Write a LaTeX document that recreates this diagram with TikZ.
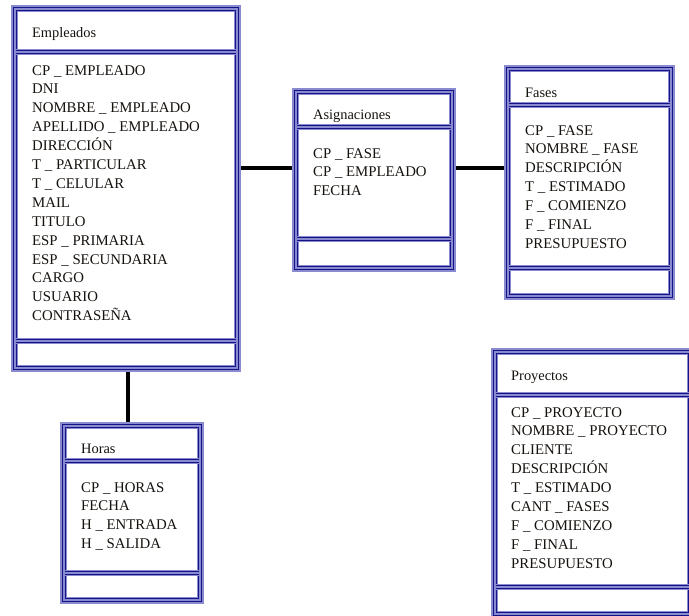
\documentclass[tikz,border=0pt]{standalone}
\usepackage{fontspec}
\setmainfont{Liberation Serif}
\usetikzlibrary{calc}

\definecolor{frameband}{RGB}{138,138,208}
\definecolor{frameline}{RGB}{20,20,134}
\definecolor{inktext}{RGB}{22,18,14}

\tikzset{
  box/.style={draw=none, inner sep=0pt, outer sep=0pt, anchor=north west},
  band/.style={draw=frameband, line width=7pt},
  rimout/.style={draw=frameline, line width=1.9pt},
  rimin/.style={draw=frameline, line width=1.3pt},
  sepband/.style={draw=frameband, line width=6.5pt},
  sepline/.style={draw=frameline, line width=1.25pt},
  title/.style={anchor=base west, inner sep=0pt, text=inktext, font=\fontsize{14.4}{18}\selectfont},
  field/.style={anchor=base west, inner sep=0pt, text=inktext, font=\fontsize{14.8}{19}\selectfont},
  rel/.style={draw=black, line width=3.8pt},
}

% #1 name, #2 left, #3 top, #4 right, #5 bottom, #6 title rule, #7 lower rule
\newcommand\entitybox[7]{%
  \node[box, minimum width={#4pt-#2pt}, minimum height={#5pt-#3pt}] (#1) at (#2,#3) {};
  \draw[band]   ($(#1.north west)+(3.5,3.5)$) rectangle ($(#1.south east)+(-3.5,-3.5)$);
  \draw[rimout] ($(#1.north west)+(2.5,2.5)$) rectangle ($(#1.south east)+(-2.5,-2.5)$);
  \draw[rimin]  ($(#1.north west)+(5.8,5.8)$) rectangle ($(#1.south east)+(-5.8,-5.8)$);
  \foreach \ry in {#6,#7}{
    \draw[sepband] ({#2+5},\ry) -- ({#4-5},\ry);
    \draw[sepline] ({#2+5},{\ry-1.7}) -- ({#4-5},{\ry-1.7});
    \draw[sepline] ({#2+5},{\ry+1.7}) -- ({#4-5},{\ry+1.7});
  }%
}

% #1 name, #2 text x, #3 title baseline, #4 first field baseline, #5 title, #6 fields
\newcommand\entitytext[6]{%
  \node[title] (#1-title) at (#2,#3) {#5};
  \foreach \fldtxt [count=\fldidx] in {#6}{
    \node[field] (#1-f\fldidx) at (#2,{#4+(\fldidx-1)*18.9}) {\fldtxt};
  }%
}

\begin{document}
\begin{tikzpicture}[x=1pt,y=-1pt]
  \fill[white] (0,0) rectangle (689,616);
  \useasboundingbox (0,0) rectangle (689,616);
  \clip (0,0) rectangle (689,616);

  % entity frames
  \entitybox{emp}{11}{5}{241}{372}{52}{341}
  \entitybox{asg}{292}{88}{456}{272}{127}{239}
  \entitybox{fas}{504}{65}{675}{300}{105}{268}
  \entitybox{pro}{491}{348}{694}{618}{395}{587}
  \entitybox{hor}{60}{422}{204}{604}{461}{573}

  % names and attributes
  \entitytext{emp}{32}{37}{75}{Empleados}{CP \_ EMPLEADO, DNI, NOMBRE \_ EMPLEADO, APELLIDO \_ EMPLEADO, DIRECCIÓN, T \_ PARTICULAR, T \_ CELULAR, MAIL, TITULO, ESP \_ PRIMARIA, ESP \_ SECUNDARIA, CARGO, USUARIO, CONTRASEÑA}
  \entitytext{asg}{313}{119}{158}{Asignaciones}{CP \_ FASE, CP \_ EMPLEADO, FECHA}
  \entitytext{fas}{525}{97}{135}{Fases}{CP \_ FASE, NOMBRE \_ FASE, DESCRIPCIÓN, T \_ ESTIMADO, F \_ COMIENZO, F \_ FINAL, PRESUPUESTO}
  \entitytext{pro}{511}{380}{417}{Proyectos}{CP \_ PROYECTO, NOMBRE \_ PROYECTO, CLIENTE, DESCRIPCIÓN, T \_ ESTIMADO, CANT \_ FASES, F \_ COMIENZO, F \_ FINAL, PRESUPUESTO}
  \entitytext{hor}{81}{453}{492}{Horas}{CP \_ HORAS, FECHA, H \_ ENTRADA, H \_ SALIDA}

  % relationships
  \coordinate (lvl) at (0,168);
  \coordinate (col) at (128,0);
  \draw[rel] (emp.east |- lvl) -- (asg.west |- lvl);
  \draw[rel] (asg.east |- lvl) -- (fas.west |- lvl);
  \draw[rel] (emp.south -| col) -- (hor.north -| col);
\end{tikzpicture}
\end{document}
